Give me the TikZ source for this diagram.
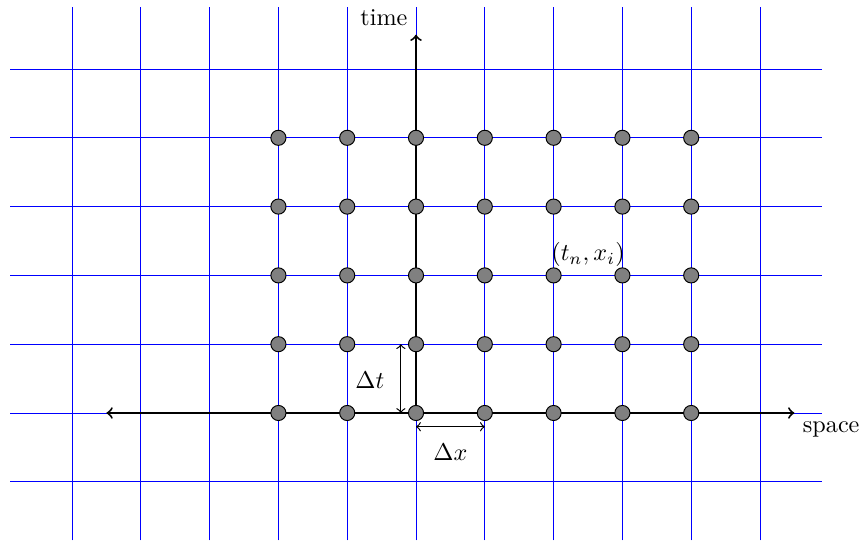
\documentclass[tikz,border=0pt]{standalone}
\begin{document}
\begin{tikzpicture}[x=1cm,y=1cm,
  gridline/.style={blue,line width=0.4pt},
  axisline/.style={black,thick},
  meshpt/.style={circle,draw=black,fill=gray,inner sep=0pt,minimum size=0.22cm,line width=0.4pt},
  dimarrow/.style={<->,black,line width=0.5pt}]
\useasboundingbox (-6.047,-1.86) rectangle (6.468,6.003);
% grid
\foreach \x in {-5,...,5} \draw[gridline] (\x,-1.85) -- (\x,5.9);
\foreach \y in {-1,...,5} \draw[gridline] (-5.9,\y) -- (5.9,\y);
% axes
\coordinate (xl) at (-4.5,0);
\coordinate (xr) at (5.5,0);
\coordinate (o) at (0,0);
\coordinate (yt) at (0,5.5);
\draw[axisline,<->] (xl) -- (xr);
\draw[axisline,->] (o) -- (yt);
\node[above left] (tlab) at (yt) {time};
\node[below right] (slab) at (xr) {space};
% mesh points
\foreach \i in {-2,...,4} \foreach \j in {0,...,4}
  \node[meshpt] (p\i\j) at (\i,\j) {};
% steps
\coordinate (dta) at (-0.22,0);
\coordinate (dtb) at (-0.22,1);
\coordinate (dxa) at (0,-0.2);
\coordinate (dxb) at (1,-0.2);
\draw[dimarrow] (dta) -- (dtb);
\draw[dimarrow] (dxa) -- (dxb);
\node (dtlab) at (-0.67,0.48) {$\Delta t$};
\node (dxlab) at (0.5,-0.57) {$\Delta x$};
\node[above] (lab) at (2.5,2) {$(t_n,x_i)$};
\end{tikzpicture}
\end{document}
